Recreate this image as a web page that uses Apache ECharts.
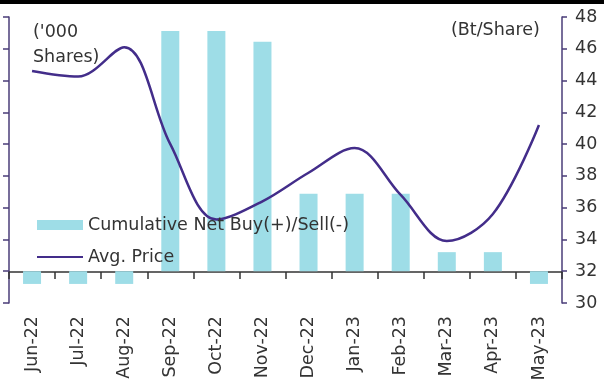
<!DOCTYPE html>
<html>
<head>
<meta charset="utf-8">
<script src="https://cdn.jsdelivr.net/npm/echarts@6/dist/echarts.min.js"></script>
<style>
  html, body { margin: 0; padding: 0; background: #fff; }
  #chart { width: 614px; height: 390px; }
</style>
</head>
<body>
<div id="chart"></div>
<script>
  // 数据
  var months = ['Jun-22','Jul-22','Aug-22','Sep-22','Oct-22','Nov-22','Dec-22','Jan-23','Feb-23','Mar-23','Apr-23','May-23'];
  var netBuy = [-0.4, -0.4, -0.4, 7.56, 7.56, 7.22, 2.44, 2.44, 2.44, 0.6, 0.6, -0.4];
  var avgPrice = [44.6, 44.25, 46.1, 40.0, 35.25, 36.4, 38.2, 39.75, 36.8, 33.9, 35.6, 41.2];
  var priceTicks = [30, 48, 2];

  var font = 'DejaVu Sans';
  var fontSize = 17.5;
  var axisColor = '#4a3d78';

  var myChart = echarts.init(document.getElementById('chart'));
  myChart.setOption({
    animation: false,
    textStyle: { fontFamily: font },
    grid: { left: 9, right: 52, top: 17, bottom: 87, outerBoundsMode: 'none', containLabel: false },
    legend: {
      orient: 'vertical',
      left: 31,
      top: 211,
      itemWidth: 46,
      itemHeight: 10,
      itemGap: 14,
      textStyle: { fontSize: fontSize, color: '#333', fontFamily: font },
      data: [
        { name: 'Cumulative Net Buy(+)/Sell(-)', icon: 'rect' },
        { name: 'Avg. Price', itemStyle: { opacity: 0 } }
      ]
    },
    graphic: [
      { type: 'rect', shape: { x: 0, y: 0, width: 604, height: 4 }, style: { fill: '#000' } },
      { type: 'text', left: 33, top: 20, style: { text: "('000\nShares)", fontSize: fontSize, lineHeight: 25, fill: '#333', fontFamily: font } },
      { type: 'text', left: 451, top: 21, style: { text: '(Bt/Share)', fontSize: fontSize, fill: '#333', fontFamily: font } }
    ],
    xAxis: {
      type: 'category',
      data: months,
      position: 'bottom',
      offset: -31,   // 轴线放在左轴0的位置
      axisLine: { show: true, onZero: false, lineStyle: { color: '#333', width: 1.5 } },
      axisTick: { show: true, length: 7, lineStyle: { color: '#333', width: 1.5 } },
      axisLabel: { rotate: 90, margin: 44, fontSize: fontSize, color: '#333', fontFamily: font }
    },
    yAxis: [{
      type: 'value',
      min: -1,
      max: 8,
      interval: 1,
      position: 'left',
      axisLine: { show: true, lineStyle: { color: axisColor, width: 1.5 } },
      axisTick: { show: true, length: 6, lineStyle: { color: axisColor, width: 1.5 } },
      axisLabel: { show: false },
      splitLine: { show: false }
    }, {
      type: 'value',
      min: priceTicks[0],
      max: priceTicks[1],
      interval: priceTicks[2],
      position: 'right',
      axisLine: { show: true, lineStyle: { color: axisColor, width: 1.5 } },
      axisTick: { show: true, length: 5, lineStyle: { color: axisColor, width: 1.5 } },
      axisLabel: { margin: 13, fontSize: fontSize, color: '#333', fontFamily: font },
      splitLine: { show: false }
    }],
    series: [{
      name: 'Cumulative Net Buy(+)/Sell(-)',
      type: 'bar',
      yAxisIndex: 0,
      barWidth: 18,
      data: netBuy,
      itemStyle: { color: '#9edde7' }
    }, {
      name: 'Avg. Price',
      type: 'line',
      yAxisIndex: 1,
      smooth: 0.35,
      symbol: 'none',
      data: avgPrice,
      lineStyle: { color: '#432d8a', width: 2.5 },
      itemStyle: { color: '#432d8a' }
    }]
  });

  window.addEventListener('resize', function () {
    myChart.resize();
  });
</script>
</body>
</html>
